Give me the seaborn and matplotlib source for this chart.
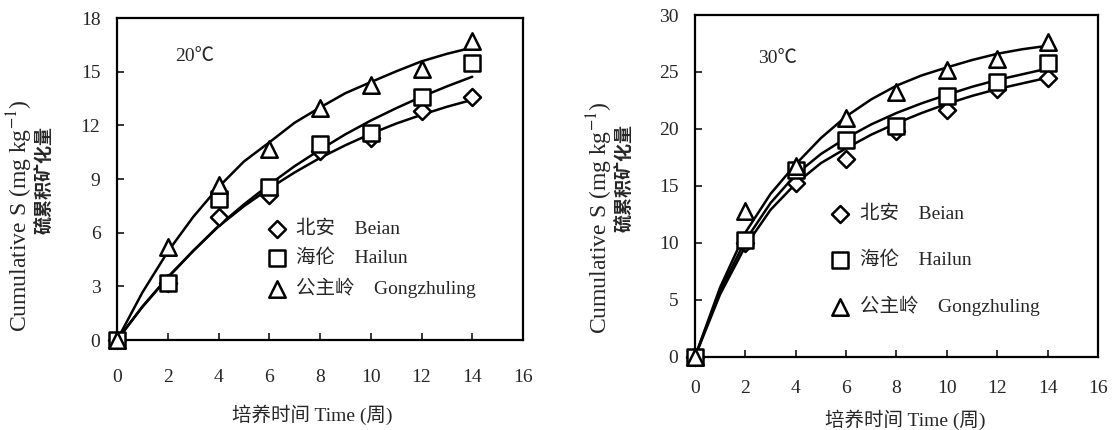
import seaborn as sns
import matplotlib.pyplot as plt

sns.set_style('white')
plt.rcParams['font.family'] = ['Liberation Serif', 'Noto Sans CJK SC']
plt.rcParams['mathtext.fontset'] = 'stix'

# observed points (weeks 0..14)
weeks = [0, 2, 4, 6, 8, 10, 12, 14]
beian20 = [0, 3.2, 6.87, 8.1, 10.55, 11.3, 12.8, 13.56]
hailun20 = [0, 3.17, 7.9, 8.58, 10.97, 11.6, 13.58, 15.47]
gong20 = [0, 5.21, 8.67, 10.68, 12.96, 14.26, 15.15, 16.7]
beian30 = [0, 10.0, 15.28, 17.33, 19.8, 21.66, 23.5, 24.5]
hailun30 = [0, 10.24, 16.39, 19.02, 20.25, 22.89, 24.14, 25.8]
gong30 = [0, 12.8, 16.77, 20.98, 23.2, 25.17, 26.1, 27.6]

# fitted curves, every week
weeks_fit = list(range(15))
beian20_fit = [0, 1.87, 3.52, 4.98, 6.35, 7.48, 8.47, 9.37, 10.18, 10.89, 11.53, 12.10, 12.59, 13.04, 13.43]
hailun20_fit = [0, 1.85, 3.48, 4.98, 6.38, 7.58, 8.69, 9.72, 10.64, 11.50, 12.27, 12.96, 13.60, 14.18, 14.72]
gong20_fit = [0, 2.66, 4.94, 6.88, 8.55, 9.98, 11.05, 12.15, 13.0, 13.8, 14.42, 15.02, 15.58, 16.0, 16.35]
beian30_fit = [0, 5.5, 9.7, 12.9, 15.2, 17.0, 18.3, 19.5, 20.5, 21.4, 22.2, 22.9, 23.5, 24.0, 24.5]
hailun30_fit = [0, 5.8, 10.2, 13.5, 16.0, 17.8, 19.2, 20.4, 21.4, 22.25, 23.0, 23.7, 24.3, 24.8, 25.3]
gong30_fit = [0, 6.1, 10.9, 14.3, 16.9, 19.2, 21.1, 22.6, 23.8, 24.7, 25.4, 26.05, 26.6, 27.0, 27.3]

labels = ['北安    Beian', '海伦    Hailun', '公主岭    Gongzhuling']
markers = ['D', 's', '^']
msizes = [75, 120, 140]

fig = plt.figure(figsize=(11.19, 4.30), dpi=100)
ax1 = fig.add_axes([0.1046, 0.2093, 0.3628, 0.7487])
ax2 = fig.add_axes([0.6211, 0.1705, 0.3601, 0.7945])


def draw(ax, obs, fits, ymax, ystep, xpad, temp, temp_xy, leg_xy, leg_space):
    for f in fits:
        sns.lineplot(x=weeks_fit, y=f, ax=ax, color='black', linewidth=1.8,
                     zorder=2, legend=False)
    for i, o in enumerate(obs):
        sns.scatterplot(x=weeks, y=o, ax=ax, marker=markers[i], s=msizes[i],
                        facecolor='white', edgecolor='black', linewidth=1.8,
                        zorder=3 + i, clip_on=False, label=labels[i])
    ax.set_xlim(0, 16)
    ax.set_ylim(0, ymax)
    ax.set_xticks(range(0, 17, 2))
    ax.set_yticks(range(0, ymax + 1, ystep))
    ax.tick_params(axis='both', direction='in', length=5, width=1.3,
                   labelsize=14, bottom=True, left=True)
    ax.tick_params(axis='x', pad=xpad)
    ax.tick_params(axis='y', pad=12)
    for sp in ax.spines.values():
        sp.set_linewidth(1.6)
        sp.set_color('black')
    ax.text(temp_xy[0], temp_xy[1], temp, fontsize=14)
    ax.legend(loc='center left', bbox_to_anchor=leg_xy, frameon=False,
              fontsize=14, handletextpad=0.4, labelspacing=leg_space,
              borderaxespad=0, handlelength=1.2)


draw(ax1, [beian20, hailun20, gong20], [beian20_fit, hailun20_fit, gong20_fit],
     18, 3, 21, '20℃', (2.3, 15.6), (0.345, 0.25), 0.55)
draw(ax2, [beian30, hailun30, gong30], [beian30_fit, hailun30_fit, gong30_fit],
     30, 5, 17, '30℃', (2.5, 25.8), (0.312, 0.28), 1.4)

xlab = '培养时间 Time (周)'
fig.text(312 / 1119, 1 - 415 / 430, xlab, fontsize=14, ha='center', va='center')
fig.text(905 / 1119, 1 - 420 / 430, xlab, fontsize=14, ha='center', va='center')

ylab1 = 'Cumulative S (mg kg$^{-1}$)'
ylab2 = '硫累积矿化量'
fig.text(20 / 1119, 1 - 216 / 430, ylab1, fontsize=17, rotation=90, ha='center', va='center')
fig.text(45 / 1119, 1 - 180 / 430, ylab2, fontsize=13, rotation=90, ha='center', va='center',
         family='Noto Sans CJK SC', weight='bold')
fig.text(600 / 1119, 1 - 218 / 430, ylab1, fontsize=17, rotation=90, ha='center', va='center')
fig.text(625 / 1119, 1 - 178 / 430, ylab2, fontsize=13, rotation=90, ha='center', va='center',
         family='Noto Sans CJK SC', weight='bold')

fig.savefig('out.png', dpi=100)
